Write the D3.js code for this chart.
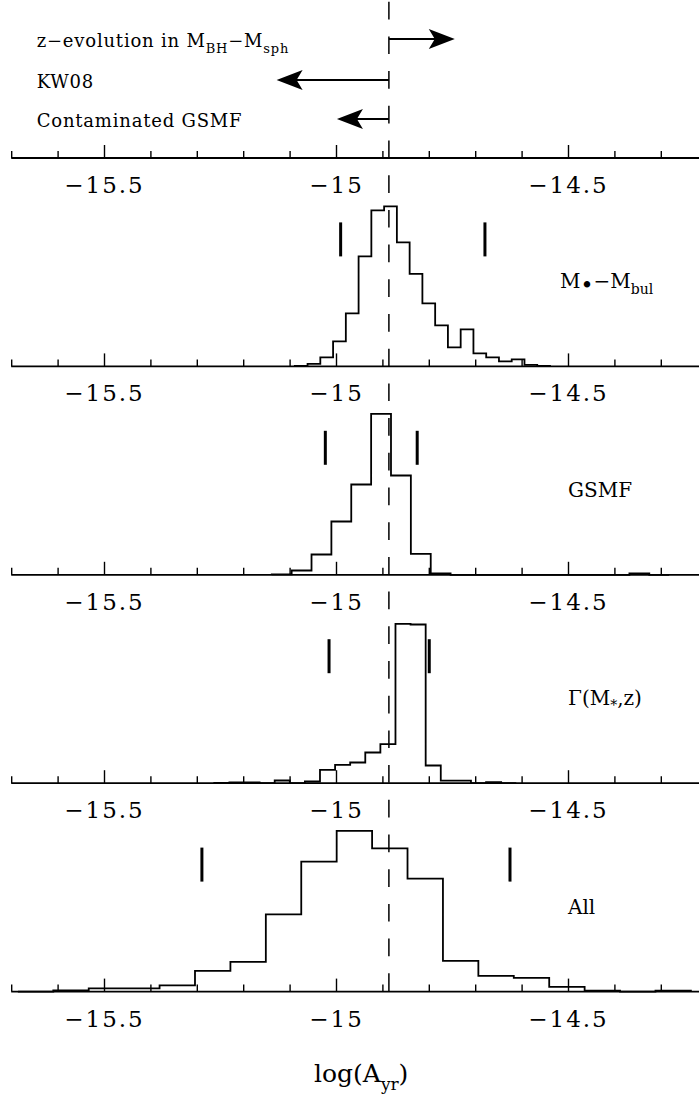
<!DOCTYPE html>
<html>
<head>
<meta charset="utf-8">
<script src="https://cdn.jsdelivr.net/npm/d3@7"></script>
<style>
  body { margin: 0; background: #fff; }
  svg { display: block; }
  text { font-family: "DejaVu Serif", serif; fill: #000; }
</style>
</head>
<body>
<svg id="chart" width="699" height="1101"></svg>
<script>
// x axis
const majorTicks = [-15.5, -15, -14.5];
const tickLabels = ["\u221215.5", "\u221215", "\u221214.5"];
const minorTicks = [-15.7, -15.6, -15.4, -15.3, -15.2, -15.1, -14.9, -14.8, -14.7, -14.6, -14.4, -14.3, -14.2];

// reference value (dashed line)
const refValue = -14.886;

// top panel arrows
const arrowLabels = ["z\u2212evolution in M", "KW08", "Contaminated GSMF"];
const arrowEnds = [-14.744, -15.128, -14.998];

// histograms (bin start, bin width, counts)
const binStart = [-15.0888, -15.1384, -15.2623, -15.6856];
const binWidth = [0.0275, 0.04282, 0.03254, 0.07634];
const countsMbul = [0.5, 2.5, 9, 25, 53, 110, 156, 160, 124, 92.5, 63, 41, 19, 37, 13, 9, 5, 7, 1.5, 0.5];
const countsGSMF = [0.5, 4.3, 20.3, 53.3, 90.3, 161, 99.3, 21, 1.5, 0, 0, 0, 0, 0, 0, 0, 0, 0, 1.5, 0];
const countsGamma = [0.3, 0.8, 0.8, 0, 2.7, 0, 1.7, 13.3, 18.3, 20.7, 30.7, 39, 159.3, 158.7, 17.7, 2.5, 2.5, 0, 1, 0];
const countsAll = [0, 1.3, 3.3, 3.3, 6.3, 20.7, 29.7, 77.3, 130, 160.7, 143.3, 113, 30.7, 15.7, 13.7, 4.7, 1, 0, 1];

// interval markers
const markersMbul = [-14.990, -14.679];
const markersGSMF = [-15.023, -14.825];
const markersGamma = [-15.015, -14.799];
const markersAll = [-15.289, -14.625];

const counts = [countsMbul, countsGSMF, countsGamma, countsAll];
const markers = [markersMbul, markersGSMF, markersGamma, markersAll];

// layout
const axisYs = [158, 366.4, 574.8, 783.2, 991.6];
const panelH = 200;
const markerSpan = [110, 144];

const svg = d3.select("#chart");

const x = d3.scaleLinear()
    .domain([-15.7, -14.2])
    .range([11.2, 707.2]);

// axes with ticks pointing up, labels below
axisYs.forEach(ay => {
    const g = svg.append("g").attr("transform", `translate(0,${ay})`);

    g.append("g")
        .call(d3.axisBottom(x).tickValues(minorTicks).tickSize(-7).tickSizeOuter(0).tickFormat(""))
        .call(a => a.select(".domain").remove())
        .selectAll("line").attr("stroke-width", 1.4);

    const major = g.append("g")
        .call(d3.axisBottom(x).tickValues(majorTicks).tickSize(-13).tickSizeOuter(0)
            .tickFormat((d, i) => tickLabels[i]));
    major.select(".domain").remove();
    major.selectAll("line").attr("stroke-width", 1.4);
    major.selectAll("text")
        .attr("y", 35).attr("dy", 0)
        .attr("font-family", "DejaVu Serif")
        .attr("font-size", 23)
        .attr("letter-spacing", 2);

    g.append("line")
        .attr("x1", x.range()[0]).attr("x2", x.range()[1])
        .attr("stroke", "#000").attr("stroke-width", 1.8);
});

// histograms
const line = d3.line();
counts.forEach((c, p) => {
    const y = d3.scaleLinear().domain([0, panelH]).range([axisYs[p + 1], axisYs[p + 1] - panelH]);
    const pts = [[x(binStart[p]), y(0)]];
    c.forEach((v, i) => {
        pts.push([x(binStart[p] + i * binWidth[p]), y(v)]);
        pts.push([x(binStart[p] + (i + 1) * binWidth[p]), y(v)]);
    });
    pts.push([x(binStart[p] + c.length * binWidth[p]), y(0)]);

    svg.append("path")
        .attr("d", line(pts))
        .attr("fill", "none")
        .attr("stroke", "#000")
        .attr("stroke-width", 1.8)
        .attr("stroke-linejoin", "miter");

    svg.selectAll(null)
        .data(markers[p])
        .join("line")
        .attr("x1", d => x(d)).attr("x2", d => x(d))
        .attr("y1", y(markerSpan[0])).attr("y2", y(markerSpan[1]))
        .attr("stroke", "#000")
        .attr("stroke-width", 3);
});

// panel labels
const labelX = 568;
const lab = (p) => svg.append("text")
    .attr("x", labelX)
    .attr("y", axisYs[p + 1] - 78)
    .attr("font-size", 20);

const l0 = lab(0).attr("x", 560);
l0.append("tspan").text("M");
l0.append("tspan").attr("font-size", 22).attr("dy", 5).text("\u2022");
l0.append("tspan").attr("dy", -5).text("\u2212M");
l0.append("tspan").attr("font-size", 14).attr("dy", 6).text("bul");

lab(1).text("GSMF");

const l2 = lab(2);
l2.append("tspan").text("\u0393(M");
l2.append("tspan").attr("font-size", 14).attr("dy", 5).text("*");
l2.append("tspan").attr("dy", -5).text(",z)");

lab(3).text("All");

// top panel: texts and arrows
const arrowY = [39, 80, 119];
arrowLabels.forEach((t, i) => {
    const txt = svg.append("text")
        .attr("x", 36.7)
        .attr("y", arrowY[i] + 7.5)
        .attr("font-size", 18)
        .attr("letter-spacing", 0.8)
        .text(t);
    if (i === 0) {
        txt.append("tspan").attr("font-size", 13).attr("dy", 6).text("BH");
        txt.append("tspan").attr("dy", -6).text("\u2212M");
        txt.append("tspan").attr("font-size", 13).attr("dy", 6).text("sph");
    }

    const x0 = x(refValue), x1 = x(arrowEnds[i]);
    const dir = Math.sign(x1 - x0);
    svg.append("line")
        .attr("x1", x0).attr("x2", x1 - dir * 18)
        .attr("y1", arrowY[i]).attr("y2", arrowY[i])
        .attr("stroke", "#000").attr("stroke-width", 1.8);
    const yy = arrowY[i];
    svg.append("path")
        .attr("d", `M${x1},${yy} L${x1 - dir * 26},${yy - 10} L${x1 - dir * 20},${yy} L${x1 - dir * 26},${yy + 10} Z`)
        .attr("fill", "#000");
});

// dashed reference line
svg.append("line")
    .attr("x1", x(refValue)).attr("x2", x(refValue))
    .attr("y1", 1.7).attr("y2", axisYs[4])
    .attr("stroke", "#000")
    .attr("stroke-width", 1.5)
    .attr("stroke-dasharray", "17.7,17");

// x axis title
const xt = svg.append("text")
    .attr("x", (x.range()[0] + x.range()[1]) / 2 + 2)
    .attr("y", 1081.7)
    .attr("text-anchor", "middle")
    .attr("font-size", 25);
xt.append("tspan").text("log(A");
xt.append("tspan").attr("font-size", 17).attr("dy", 8).text("yr");
xt.append("tspan").attr("dy", -8).text(")");
</script>
</body>
</html>
